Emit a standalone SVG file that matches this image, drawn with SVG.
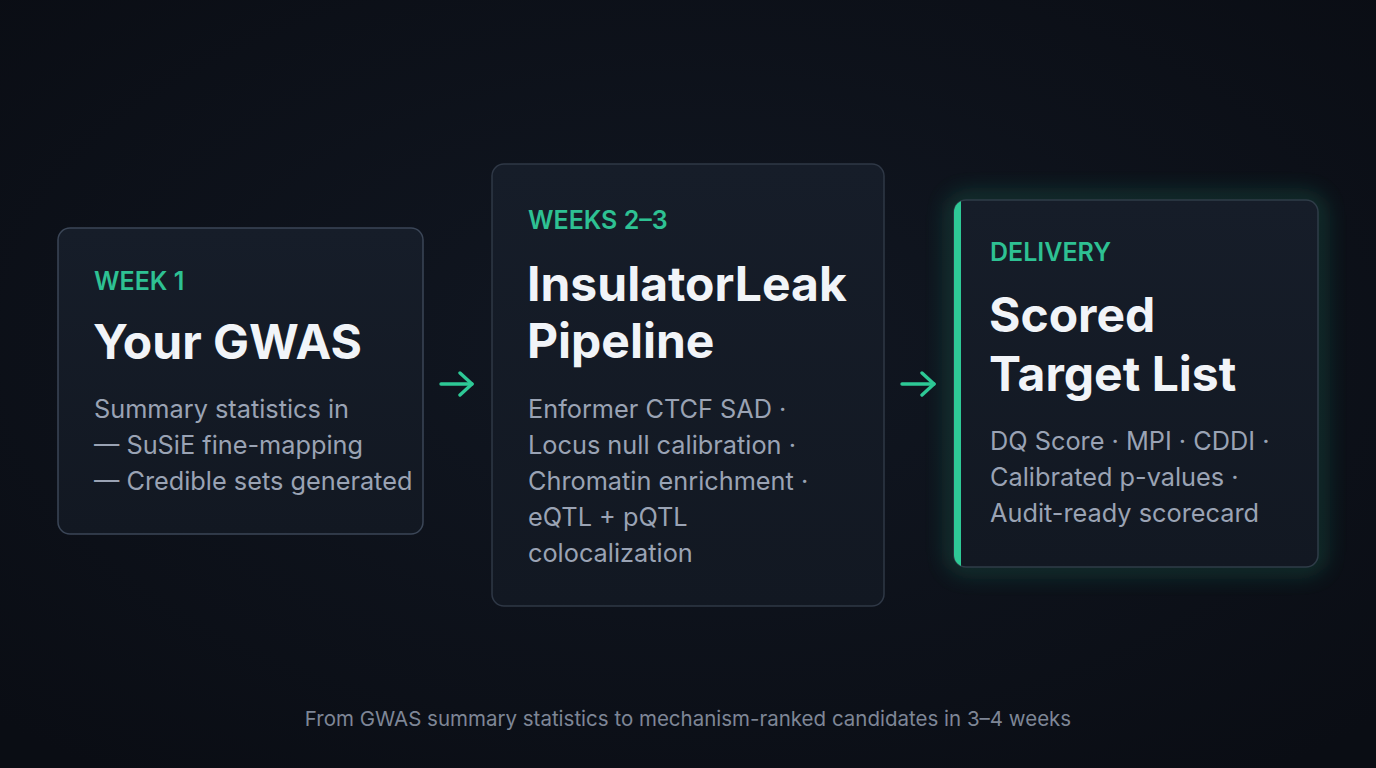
<svg xmlns="http://www.w3.org/2000/svg" width="1376" height="768" viewBox="0 0 1376 768">
<defs>
<radialGradient id="bg" cx="50%" cy="45%" r="70%">
<stop offset="0" stop-color="#111722"/>
<stop offset="1" stop-color="#0a0d14"/>
</radialGradient>
<linearGradient id="card" x1="0" y1="0" x2="0" y2="1">
<stop offset="0" stop-color="#161d29"/>
<stop offset="1" stop-color="#121822"/>
</linearGradient>
<filter id="glow" x="-20%" y="-20%" width="140%" height="140%">
<feGaussianBlur stdDeviation="11"/>
</filter>
<clipPath id="c3clip"><rect x="954" y="200" width="364" height="367" rx="12"/></clipPath>
<marker id="ah" viewBox="0 0 16 26" refX="14" refY="13" markerWidth="16" markerHeight="26" markerUnits="userSpaceOnUse" orient="auto">
<path d="M2,2 L14,13 L2,24" fill="none" stroke="#2ec996" stroke-width="3.4" stroke-linecap="round" stroke-linejoin="round"/>
</marker>
</defs>
<style>
.cardbox{fill:url(#card);stroke:#3b4657;stroke-width:1.5}
.lbl{font-family:Inter,"Liberation Sans",sans-serif;font-size:25px;font-weight:600;fill:#2ec193}
.ttl{font-family:Inter,"Liberation Sans",sans-serif;font-size:48px;font-weight:700;fill:#f1f4f8}
.body{font-family:Inter,"Liberation Sans",sans-serif;font-size:25.3px;font-weight:400;fill:#9aa3b4}
.foot{font-family:Inter,"Liberation Sans",sans-serif;font-size:20.5px;font-weight:400;fill:#7e8696}
.conn{stroke:#2ec996;stroke-width:3.4;stroke-linecap:round;fill:none}
</style>
<rect width="1376" height="768" fill="url(#bg)"/>

<g id="connectors">
<line class="conn" x1="441" y1="384" x2="472" y2="384" marker-end="url(#ah)"/>
<line class="conn" x1="902" y1="384" x2="934" y2="384" marker-end="url(#ah)"/>
</g>

<g id="week1">
<rect class="cardbox" x="58" y="228" width="365" height="306" rx="12"/>
<text class="lbl" x="94" y="290">WEEK 1</text>
<text class="ttl" x="93" y="359">Your GWAS</text>
<text class="body" x="94" y="418">Summary statistics in</text>
<text class="body" x="94" y="454">— SuSiE fine-mapping</text>
<text class="body" x="94" y="490">— Credible sets generated</text>
</g>

<g id="weeks23">
<rect class="cardbox" x="492" y="164" width="392" height="442" rx="12" style="stroke:#2f3846"/>
<text class="lbl" x="528" y="229">WEEKS 2–3</text>
<text class="ttl" x="527" y="301">InsulatorLeak</text>
<text class="ttl" x="527" y="358">Pipeline</text>
<text class="body" x="528" y="418">Enformer CTCF SAD ·</text>
<text class="body" x="528" y="454">Locus null calibration ·</text>
<text class="body" x="528" y="490">Chromatin enrichment ·</text>
<text class="body" x="528" y="526">eQTL + pQTL</text>
<text class="body" x="528" y="562">colocalization</text>
</g>

<g id="delivery">
<rect x="954" y="200" width="364" height="367" rx="12" fill="none" stroke="#1f8f6a" stroke-width="8" opacity="0.6" filter="url(#glow)"/>
<rect class="cardbox" x="954" y="200" width="364" height="367" rx="12" style="stroke:#2f3c48"/>
<rect x="954" y="200" width="7" height="367" fill="#2ec996" clip-path="url(#c3clip)"/>
<text class="lbl" x="990" y="261">DELIVERY</text>
<text class="ttl" x="989" y="332">Scored</text>
<text class="ttl" x="989" y="391">Target List</text>
<text class="body" x="990" y="450">DQ Score · MPI · CDDI ·</text>
<text class="body" x="990" y="486">Calibrated p-values ·</text>
<text class="body" x="990" y="522">Audit-ready scorecard</text>
</g>

<text class="foot" x="688" y="726" text-anchor="middle">From GWAS summary statistics to mechanism-ranked candidates in 3–4 weeks</text>
</svg>
